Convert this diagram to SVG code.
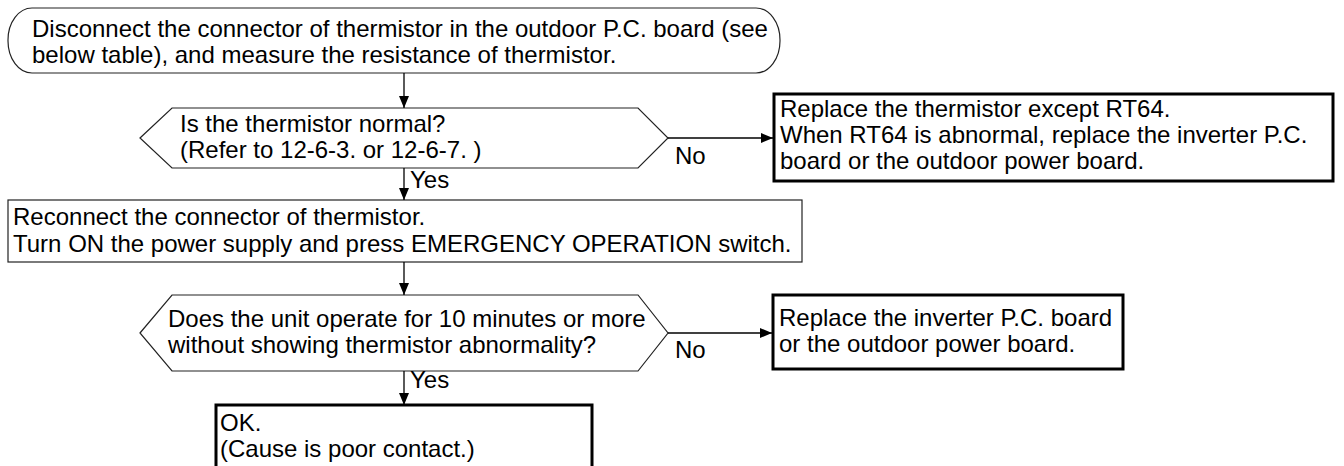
<svg xmlns="http://www.w3.org/2000/svg" width="1344" height="466" viewBox="0 0 1344 466">
<defs>
<marker id="ah" markerWidth="12" markerHeight="10" refX="12" refY="5" orient="auto" markerUnits="userSpaceOnUse">
<path d="M0,0 L12,5 L0,10 Z" fill="#000"/>
</marker>
<style>
text{font-family:"Liberation Sans",Arial,Helvetica,sans-serif;font-size:24px;fill:#000}
.thin{fill:#fff;stroke:#222;stroke-width:1.2}
.thick{fill:#fff;stroke:#000;stroke-width:3}
.conn{stroke:#000;stroke-width:1.3;fill:none;marker-end:url(#ah)}
</style>
</defs>
<rect width="1344" height="466" fill="#fff"/>
<g id="start">
<rect class="thin" x="8" y="8" width="772" height="65" rx="24" ry="32"/>
<text x="32" y="37">Disconnect the connector of thermistor in the outdoor P.C. board (see</text>
<text x="32" y="63">below table), and measure the resistance of thermistor.</text>
</g>
<g id="decision1">
<polygon class="thin" points="140,138 172,108 638,108 668,138 638,168 172,168"/>
<text x="180" y="132">Is the thermistor normal?</text>
<text x="180" y="158">(Refer to 12-6-3. or 12-6-7. )</text>
</g>
<g id="replace1">
<rect class="thick" x="774" y="94" width="559" height="87"/>
<text x="780" y="117">Replace the thermistor except RT64.</text>
<text x="780" y="143">When RT64 is abnormal, replace the inverter P.C.</text>
<text x="780" y="169">board or the outdoor power board.</text>
</g>
<g id="reconnect">
<rect class="thin" x="8" y="200" width="794" height="62"/>
<text x="13" y="225">Reconnect the connector of thermistor.</text>
<text x="13" y="252">Turn ON the power supply and press EMERGENCY OPERATION switch.</text>
</g>
<g id="decision2">
<polygon class="thin" points="140,333 172,295 638,295 668,333 638,371 172,371"/>
<text x="168" y="327">Does the unit operate for 10 minutes or more</text>
<text x="168" y="353">without showing thermistor abnormality?</text>
</g>
<g id="replace2">
<rect class="thick" x="773" y="295" width="350" height="74"/>
<text x="779" y="326">Replace the inverter P.C. board</text>
<text x="779" y="352">or the outdoor power board.</text>
</g>
<g id="ok">
<rect class="thick" x="216" y="405" width="376" height="80"/>
<text x="220" y="431">OK.</text>
<text x="220" y="457">(Cause is poor contact.)</text>
</g>
<g id="connectors">
<line class="conn" x1="404" y1="73" x2="404" y2="108"/>
<line class="conn" x1="404" y1="168" x2="404" y2="200"/>
<line class="conn" x1="404" y1="262" x2="404" y2="295"/>
<line class="conn" x1="404" y1="371" x2="404" y2="405"/>
<line class="conn" x1="668" y1="138" x2="773" y2="138"/>
<line class="conn" x1="668" y1="333" x2="772" y2="333"/>
<text x="410" y="188">Yes</text>
<text x="675" y="164">No</text>
<text x="410" y="388">Yes</text>
<text x="675" y="358">No</text>
</g>
</svg>
